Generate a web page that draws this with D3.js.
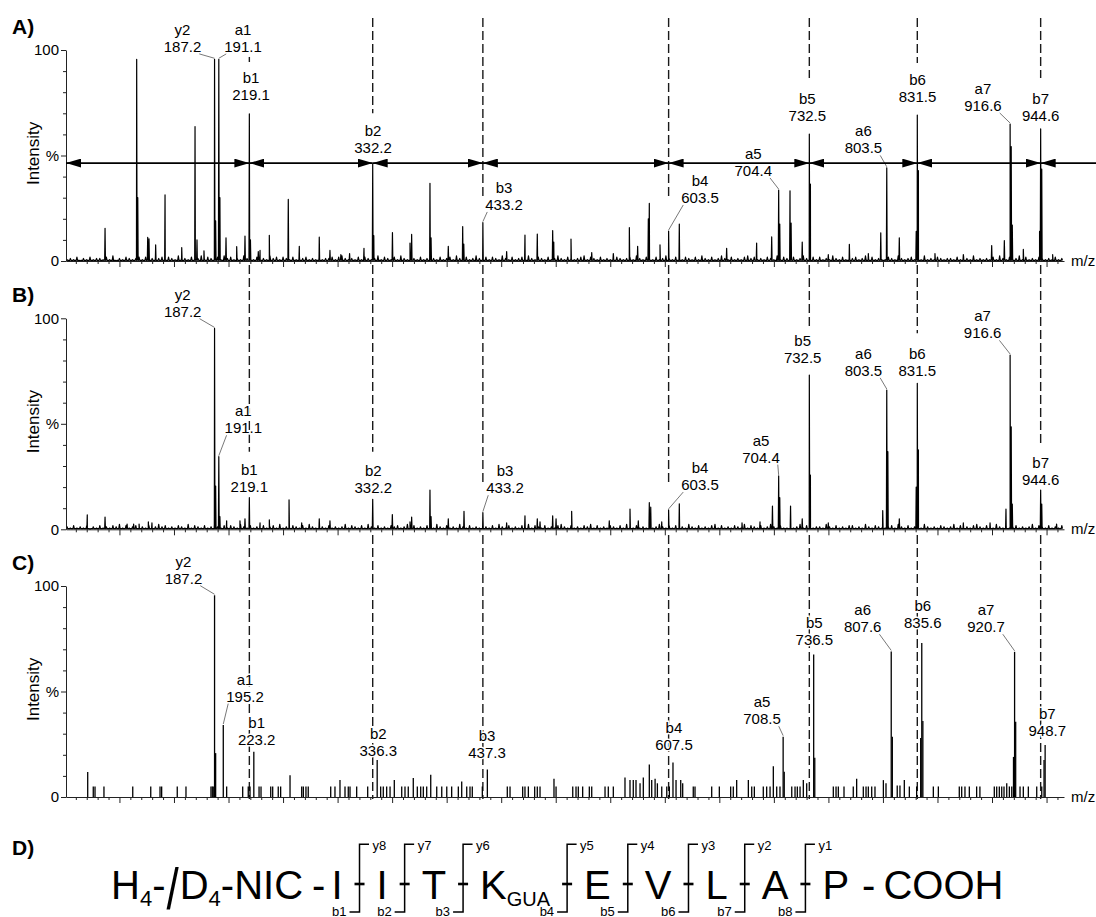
<!DOCTYPE html>
<html>
<head>
<meta charset="utf-8">
<script src="https://cdn.jsdelivr.net/npm/d3@7"></script>
<style>
body { margin: 0; background: #fff; }
svg { display: block; font-family: "Liberation Sans", Arial, sans-serif; }
</style>
</head>
<body>
<svg id="chart" width="1096" height="917"></svg>
<script>
// ---- data ----
var bIons = ["b1", "b2", "b3", "b4", "b5", "b6", "b7"];
var bMz = [219.1, 332.2, 433.2, 603.5, 732.5, 831.5, 944.6];

// profile spectra [m/z, %]
var peaksA = [
  [86.8,15.5],[115.8,95.6],[116.8,30],[125.9,11.2],[127.1,10.5],[133.2,7.6],[141.8,31.3],[157.1,6.4],
  [169.3,63.7],[171.1,10],[177.5,4.8],[187.2,95.6],[188.2,19],[191.1,95.6],[192.1,30],[197.7,11],
  [207.5,6.8],[215.1,11.8],[219.1,69.7],[220.1,10],[227.3,4.5],[228.9,5],[237.4,12.2],[254.8,29.2],
  [264.9,7],[283.2,11.3],[293,5],[303,3],[311,3.5],[324.2,6],[332.2,46],[333.2,12],[350.3,13.5],
  [366.4,8.5],[367.9,12.6],[384.7,36.8],[385.7,11],[401.5,7],[414.7,16.3],[415.7,8],[433.2,18.2],
  [455,4.5],[471.8,12.3],[483.1,12.8],[497.2,14.4],[498.2,9],[514,10.4],[533,4],[552.8,3.5],
  [567.5,15.8],[575.1,7],[584.9,20],[585.8,27.3],[595.6,7.6],[603.5,14.2],[613.3,17.5],[656.7,6],
  [684.2,8.5],[698,11.4],[704.4,33.6],[705.4,17.5],[714.8,33.3],[715.8,18],[726,9],[732.5,60.2],
  [733.5,36.5],[749.9,3],[769.2,7.9],[786.6,3.5],[798,13.4],[803.5,44.2],[815,11],[830.5,14],
  [831.5,69.2],[832.5,42.8],[847.7,3.5],[873.7,3],[899.7,7.3],[911.3,9.7],[916.6,64.9],[917.6,54.2],
  [918.6,17],[928.7,5.5],[943.6,14],[944.6,62.6],[945.6,43.5],[955.6,3]
];
var peaksB = [
  [70.5,6.8],[86.8,5.8],[107,2.5],[113,2.5],[118,2.5],[126.5,3.5],[129.8,3],[187.2,95.2],[188.2,20.5],
  [191.1,34.4],[192.1,6],[198.3,4],[210.5,4],[215.1,5],[219.1,15],[228.9,3],[237.4,4.5],[255.5,13.9],
  [267.1,3],[283.2,5],[293,4],[332.2,14.2],[350.2,7],[366.4,3.5],[367.9,5.8],[384.7,18.6],[385.7,6],
  [401.5,5],[415.9,8.5],[433.2,7.9],[455,3],[471.8,6.4],[483.1,5],[485.6,3.5],[497.2,6.4],[500.3,5],
  [514.6,8.5],[549.1,4],[568.1,9.6],[575.7,4],[585.8,12.6],[587.1,10.5],[597.2,3.5],[603.5,9.2],
  [613.3,12.1],[670.8,3],[687.3,3.5],[698.7,11],[704.4,25.3],[705.4,15],[715.3,11],[726,5],
  [732.5,73.1],[733.5,25.7],[749.9,3],[799.8,8.9],[803.5,66],[804.5,36.8],[815,5],[830.5,20],
  [831.5,69.2],[832.5,37.6],[873.7,3],[898.2,3],[912.8,9.6],[916.6,82.6],[917.6,48.6],[918.6,12],
  [944.6,18.6],[945.6,12],[959.2,2.5]
];
// baseline noise, one digit every 3 m/z from 52 (digit x 0.6 %)
var noiseStart = 52, noiseStep = 3;
var noiseA = ["1213021312","2131402132","1231312423","1321432132","2413213142","3121423131",
  "2142313213","1423121312","2313421213","1321241321","3142132131","2421312314","2131242131",
  "3214213123","1421321312","4213212341","3213121432","1231421321","3124213213","2131421312",
  "4213121342","3121321413","2131242131","3121421312","2312413121","1321421231","3141213212",
  "2131321412","1213142131","2413121321","21312"].join("");
var noiseB = ["2131213021","3121324131","2312131242","3121321413","2131242131","3214213121",
  "3123141213","2131421321","3121241321","3142131213","2312413121","3214213121","4213121321",
  "3142131213","2413213121","3421312132","4131213213","1421312131","2421313121","4213121341",
  "3121321413","2131242131","1312413212","2142131213","3121421321","1231421312","3142121321",
  "2413121342","1321421312","3121241321","31213"].join("");

// centroid sticks for C [m/z, %]
var sticksC = [
  [70.9,11.9],[76.0,5],[77.6,5],[85.8,5],[112.2,5],[128.7,5],[137.2,5],[138.7,5],[153.0,5],[161.0,5],
  [183.9,5],[185.1,5],[186.0,5],[187.2,95.6],[188.2,20.8],[195.2,34.1],[198.3,5],[213.0,5],[218.1,5],[219.7,5],
  [223.2,21.4],[228.0,5],[229.8,5],[238.7,5],[240.5,5],[245.6,5],[247.8,5],[256.4,10.3],[267.1,5],[268.6,5],
  [271.0,5],[273.1,5],[293.7,5],[297.6,5],[302.2,8.1],[306.8,5],[309.8,5],[311.4,5],[317.5,5],[327.6,5],
  [336.3,17.5],[339.5,5],[341.9,5],[345.0,5],[348.1,5],[352.0,8.1],[358.8,5],[361.8,5],[364.8,5],[369.4,9],
  [373.1,5],[376.2,5],[378.6,5],[381.7,5],[385.4,10.6],[390.9,5],[395.5,5],[400.1,5],[404.6,5],[410.7,5],
  [413.8,7.4],[418.4,5],[421.4,5],[423.5,5],[432.7,5],[437.3,13],[455.6,5],[458.1,5],[469.7,5],[471.8,5],
  [474.9,5],[480.7,5],[483.1,5],[485.6,5],[498.4,8.6],[500.3,5],[515.6,5],[518.6,5],[520.7,5],[524.7,5],
  [530.8,5],[533.0,5],[545.2,5],[548.2,5],[552.8,5],[563.5,9.2],[568.1,8],[571.1,8],[573.6,8],[577.3,6.5],
  [580.3,9.2],[585.8,15.4],[588.0,8],[591.1,8.6],[593.2,6.5],[597.2,5],[601.8,5],[604.2,5],[607.5,16.4],[610.3,8],
  [614.6,8],[616.4,6.5],[626.1,5],[627.7,5],[643.0,5],[650.0,5],[660.4,5],[662.8,5],[665.9,8],[676.6,8],
  [679.7,5],[682.1,5],[690.3,5],[693.4,5],[696.5,5],[699.5,14.6],[702.6,5],[705.6,5],[708.5,28.6],[709.5,12],
  [716.4,5],[719.4,5],[721.5,5],[724.0,5],[727.0,8],[730.1,6.5],[736.5,67.5],[737.5,18.6],[754.5,5],[757.0,5],
  [759.1,5],[764.3,5],[772.8,5],[775.9,8.6],[782.0,5],[784.5,5],[786.6,5],[789.7,5],[792.7,5],[800.4,8],
  [802.8,6.5],[807.6,69],[808.6,28.6],[813.1,5.5],[815.6,5.5],[819.6,8],[824.2,5],[830.9,5],[834.6,28],[835.6,73],
  [836.6,36],[846.2,5],[850.8,5],[870.0,5],[872.2,5],[875.2,5],[879.2,5],[885.9,5],[888.9,5],[902.1,5],
  [904.3,5],[906.7,5],[908.9,5],[911.0,5],[913.5,6.5],[915.9,5],[918.1,5],[919.7,19],[920.7,68.8],[921.7,35.7],
  [925.7,5],[928.7,5],[933.3,5],[941.0,5],[945.6,5],[947.7,17.5],[948.7,24.6]
];

// annotated ions: [ion, label, m/z, %]
var labelsA = [
  ["y2","187.2",187.2,95.6],["a1","191.1",191.1,95.6],["b1","219.1",219.1,69.7],["b2","332.2",332.2,46],
  ["b3","433.2",433.2,18.2],["b4","603.5",603.5,14.2],["a5","704.4",704.4,33.6],["b5","732.5",732.5,60.2],
  ["a6","803.5",803.5,44.2],["b6","831.5",831.5,69.2],["a7","916.6",916.6,64.9],["b7","944.6",944.6,62.6]
];
var labelsB = [
  ["y2","187.2",187.2,95.2],["a1","191.1",191.1,34.4],["b1","219.1",219.1,15],["b2","332.2",332.2,14.2],
  ["b3","433.2",433.2,7.9],["b4","603.5",603.5,9.2],["a5","704.4",704.4,25.3],["b5","732.5",732.5,73.1],
  ["a6","803.5",803.5,66],["b6","831.5",831.5,69.2],["a7","916.6",916.6,82.6],["b7","944.6",944.6,18.6]
];
var labelsC = [
  ["y2","187.2",187.2,95.6],["a1","195.2",195.2,34.1],["b1","223.2",223.2,21.4],["b2","336.3",336.3,17.5],
  ["b3","437.3",437.3,13],["b4","607.5",607.5,16.4],["a5","708.5",708.5,28.6],["b5","736.5",736.5,67.5],
  ["a6","807.6",807.6,69],["b6","835.6",835.6,73],["a7","920.7",920.7,68.8],["b7","948.7",948.7,24.6]
];
// label placement in data units: [m/z of text centre, % of second line baseline, leader line?]
var labelPosA = [[157.8,99.1,1],[213.3,99.1,1],[220.6,76.3,0],[332.5,51.2,0],[452.6,24.2,1],[632.3,27.5,1],
  [681.1,40.3,1],[730.7,66.4,0],[782.1,51,1],[831.7,75.5,0],[891.7,71.1,1],[944.6,66.4,0]];
var labelPosB = [[158,100.8,1],[213.6,45.5,1],[219.1,17.8,0],[332.7,17.3,0],[453.5,17.1,1],[632.3,18.6,1],
  [688.2,31.6,1],[726.4,79,0],[782.1,72.7,1],[831.5,72.7,0],[891.4,90.5,1],[944.6,21,0]];
var labelPosC = [[158.7,101.1,1],[215.1,45.2,1],[225.8,24.6,0],[337.3,19.5,0],[437,18.3,0],[608.4,22.2,0],
  [689.1,34.5,1],[737.1,72.2,0],[781.4,78.1,1],[836.5,79.9,0],[894.5,78.1,1],[950.7,28.9,0]];

// dashed b-ion guides per panel: [from %, to %]
var dashA = [[96.7,94.3],[115.2,70],[115.2,30.3],[115.2,30.5],[115.2,86.7],[115.2,93.8],[115.2,86.7]];
var dashB = [[125.3,36.8],[125.3,36.8],[125.3,21],[125.3,21.8],[125.3,94.5],[125.3,92.9],[125.3,39.1]];
var dashC = [[124.2,-1],[124.2,-1],[124.2,-1],[124.2,-1],[124.2,-1],[124.2,-1],[124.2,-1]];
var arrowLevel = 46.4;

// peptide sequence (panel D)
var residues = ["I", "I", "T", "K", "E", "V", "L", "A", "P"];
var residueSub = ["", "", "", "GUA", "", "", "", "", ""];
var yFrags = ["y8", "y7", "y6", "y5", "y4", "y3", "y2", "y1"];
var bFrags = ["b1", "b2", "b3", "b4", "b5", "b6", "b7", "b8"];

// ---- drawing ----
var svg = d3.select("#chart");
svg.append("rect").attr("width", 1096).attr("height", 917).attr("fill", "#fff");

var x = d3.scaleLinear().domain([51, 966]).range([66, 1064]);
var panelH = 211;

svg.append("defs").append("marker")
    .attr("id", "arrow")
    .attr("viewBox", "0 0 15 9")
    .attr("refX", 15).attr("refY", 4.5)
    .attr("markerWidth", 15).attr("markerHeight", 9)
    .attr("markerUnits", "userSpaceOnUse")
    .attr("orient", "auto-start-reverse")
  .append("path")
    .attr("d", "M0,0L15,4.5L0,9Z")
    .attr("fill", "#000");

var panels = [
  {name: "A)", y0: 261, peaks: peaksA, noise: noiseA, labels: labelsA, pos: labelPosA, dash: dashA, arrows: true},
  {name: "B)", y0: 529.3, peaks: peaksB, noise: noiseB, labels: labelsB, pos: labelPosB, dash: dashB},
  {name: "C)", y0: 797, sticks: sticksC, labels: labelsC, pos: labelPosC, dash: dashC}
];

function profile(peaks, noise) {
  var pts = [];
  for (var i = 0; i < noise.length; i++) {
    var m = noiseStart + i * noiseStep;
    pts.push([m - 0.6, 0.3], [m, +noise[i] * 0.6], [m + 0.6, 0.3]);
  }
  peaks.forEach(function(d) {
    pts.push([d[0] - 0.35, 0.4], [d[0], d[1]], [d[0] + 0.35, 0.4]);
  });
  pts.sort(function(a, b) { return a[0] - b[0]; });
  return pts;
}

panels.forEach(function(p) {
  var y = d3.scaleLinear().domain([0, 100]).range([p.y0, p.y0 - panelH]);
  var g = svg.append("g");

  // dashed guide lines at the b ions
  g.selectAll(".guide")
    .data(bMz)
    .enter().append("line")
    .attr("class", "guide")
    .attr("x1", function(d) { return x(d); })
    .attr("x2", function(d) { return x(d); })
    .attr("y1", function(d, i) { return y(p.dash[i][0]); })
    .attr("y2", function(d, i) { return y(p.dash[i][1]); })
    .attr("stroke", "#1a1a1a")
    .attr("stroke-width", 1.4)
    .attr("stroke-dasharray", "9,4");

  // spectrum
  if (p.sticks) {
    g.selectAll(".stick")
      .data(p.sticks)
      .enter().append("line")
      .attr("class", "stick")
      .attr("x1", function(d) { return x(d[0]); })
      .attr("x2", function(d) { return x(d[0]); })
      .attr("y1", y(0))
      .attr("y2", function(d) { return y(d[1]); })
      .attr("stroke", "#000")
      .attr("stroke-width", 1.3);
  } else {
    var line = d3.line()
      .x(function(d) { return x(d[0]); })
      .y(function(d) { return y(d[1]); });
    g.append("path")
      .datum(profile(p.peaks, p.noise))
      .attr("d", line)
      .attr("fill", "none")
      .attr("stroke", "#000")
      .attr("stroke-width", 1.2)
      .attr("stroke-linejoin", "round");
  }

  // axes
  var ya = g.append("g")
    .attr("transform", "translate(66,0)")
    .call(d3.axisLeft(y)
      .tickValues(d3.range(0, 101, 10))
      .tickSize(3).tickSizeOuter(0).tickPadding(4)
      .tickFormat(function(d) { return d === 0 ? "0" : d === 50 ? "%" : d === 100 ? "100" : ""; }))
    .attr("font-family", null)
    .attr("font-size", 15);
  ya.selectAll(".tick line").attr("x2", function(d) { return d % 50 === 0 ? -5 : -3; });
  ya.select(".domain").attr("stroke", "#222");
  ya.selectAll(".tick line").attr("stroke", "#222");

  var xa = g.append("g")
    .attr("transform", "translate(0," + y(0) + ")")
    .call(d3.axisBottom(x)
      .tickValues(d3.range(60, 961, 10))
      .tickSizeOuter(0)
      .tickFormat(""));
  xa.selectAll(".tick line")
    .attr("y2", function(d) { return d % 50 === 0 ? 6 : 3; })
    .attr("stroke", "#222");
  xa.select(".domain").attr("stroke", "#222");

  g.append("text")
    .attr("x", 1071).attr("y", y(0) + 5)
    .attr("font-size", 15)
    .text("m/z");

  g.append("text")
    .attr("transform", "translate(39," + y(51) + ") rotate(-90)")
    .attr("text-anchor", "middle")
    .attr("font-size", 17)
    .text("Intensity");

  g.append("text")
    .attr("x", 12).attr("y", y(100) - 16)
    .attr("font-size", 21)
    .attr("font-weight", "bold")
    .text(p.name);

  // ion labels
  p.labels.forEach(function(d, i) {
    var pos = p.pos[i];
    var lx = x(pos[0]), ly = y(pos[1]);
    g.append("text")
      .attr("x", lx).attr("y", ly - 17)
      .attr("text-anchor", "middle")
      .attr("font-size", 15)
      .attr("stroke", "#fff").attr("stroke-width", 3).attr("paint-order", "stroke")
      .text(d[0]);
    var t2 = g.append("text")
      .attr("x", lx).attr("y", ly)
      .attr("text-anchor", "middle")
      .attr("font-size", 15)
      .attr("stroke", "#fff").attr("stroke-width", 3).attr("paint-order", "stroke")
      .text(d[1]);
    if (pos[2]) {
      var w = t2.node().getComputedTextLength();
      var px = x(d[2]);
      var sx = px > lx ? lx + w / 2 - 2 : lx - w / 2 + 2;
      g.append("line")
        .attr("x1", sx).attr("y1", ly + 2)
        .attr("x2", px).attr("y2", y(d[3]) - 1)
        .attr("stroke", "#555")
        .attr("stroke-width", 0.8);
    }
  });

  // double arrows between b ions (last one runs off the right edge)
  if (p.arrows) {
    var bounds = [51].concat(bMz).concat([1025]);
    g.selectAll(".span")
      .data(d3.pairs(bounds))
      .enter().append("line")
      .attr("class", "span")
      .attr("x1", function(d) { return x(d[0]); })
      .attr("x2", function(d) { return x(d[1]); })
      .attr("y1", y(arrowLevel))
      .attr("y2", y(arrowLevel))
      .attr("stroke", "#000")
      .attr("stroke-width", 1.8)
      .attr("marker-start", "url(#arrow)")
      .attr("marker-end", "url(#arrow)");
  }
});

// ---- panel D: peptide sequence ----
var gD = svg.append("g");
gD.append("text")
  .attr("x", 12).attr("y", 855)
  .attr("font-size", 21).attr("font-weight", "bold")
  .text("D)");

var seqY = 899;
var cx = 111;
function put(str, size, base) {
  var t = gD.append("text").attr("x", cx).attr("y", base).attr("font-size", size).text(str);
  cx += t.node().getComputedTextLength();
  return t;
}
put("H", 40, seqY); put("4", 22, seqY + 7); put("-", 40, seqY);
// tall thin slash
var sl = gD.append("text")
  .attr("transform", "translate(" + (cx + 1) + "," + (seqY + 10) + ") scale(1.1,1.45)")
  .attr("font-size", 40)
  .text("/");
cx += sl.node().getComputedTextLength() * 1.1 + 2;
put("D", 40, seqY); put("4", 22, seqY + 7); put("-NIC", 40, seqY);
cx += 9; put("-", 40, seqY); cx += 6;

var cuts = [];
residues.forEach(function(r, i) {
  put(r, 40, seqY);
  if (residueSub[i]) put(residueSub[i], 20, seqY + 7);
  if (i < residues.length - 1) {
    cx += 17;
    cuts.push(cx);
    cx += 17;
  }
});
cx += 13; put("-", 40, seqY); cx += 8; put("COOH", 40, seqY);

var cut = gD.selectAll(".cut")
  .data(cuts)
  .enter().append("g")
  .attr("class", "cut");
cut.append("path")
  .attr("d", function(d) { return "M" + (d + 9.5) + ",844.3H" + d + "V912H" + (d - 10); })
  .attr("fill", "none")
  .attr("stroke", "#000")
  .attr("stroke-width", 1.5);
cut.append("line")
  .attr("x1", function(d) { return d - 5; })
  .attr("x2", function(d) { return d + 5; })
  .attr("y1", 884).attr("y2", 884)
  .attr("stroke", "#000")
  .attr("stroke-width", 2.6);
cut.append("text")
  .attr("x", function(d) { return d + 13; })
  .attr("y", 849.6)
  .attr("font-size", 13)
  .text(function(d, i) { return yFrags[i]; });
cut.append("text")
  .attr("x", function(d) { return d - 13; })
  .attr("y", 915.5)
  .attr("text-anchor", "end")
  .attr("font-size", 13)
  .text(function(d, i) { return bFrags[i]; });
</script>
</body>
</html>
